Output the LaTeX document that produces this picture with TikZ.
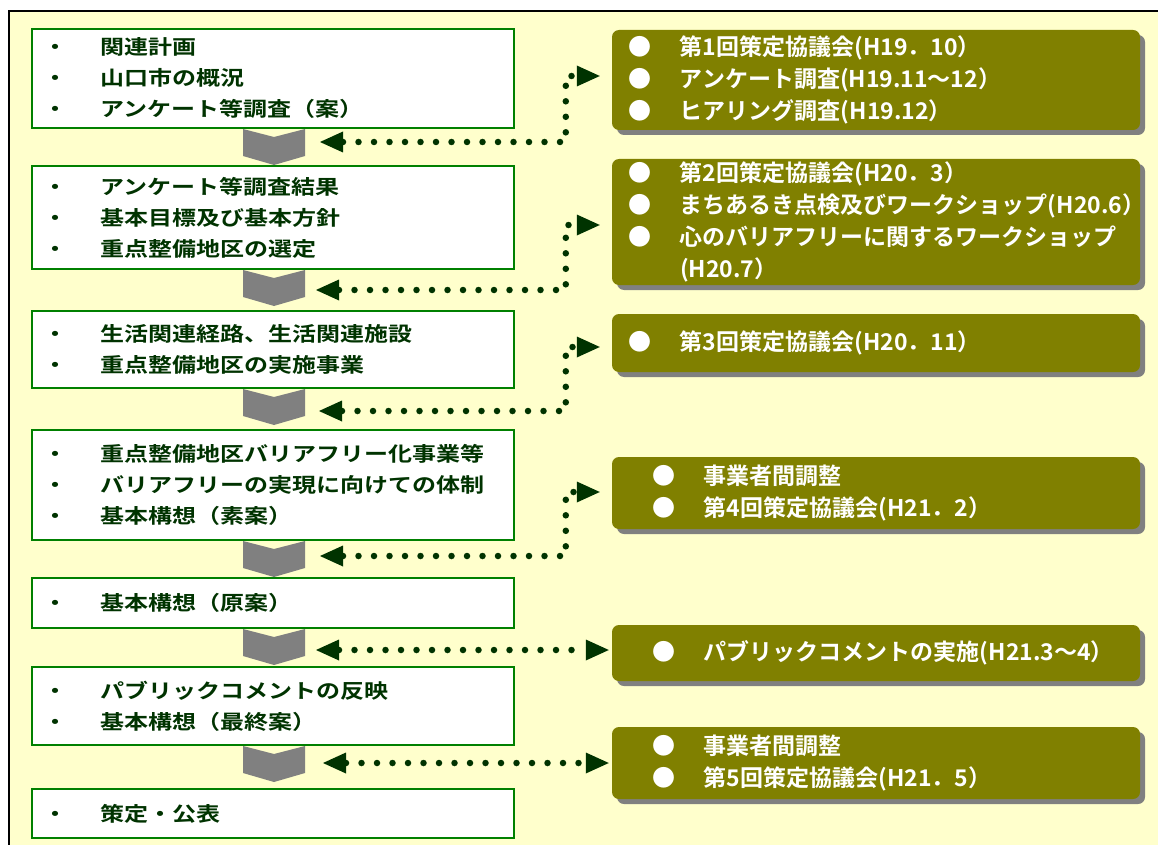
\documentclass[tikz,border=0pt]{standalone}
\usepackage{fontspec}
\usetikzlibrary{arrows.meta,shadows,calc}
\newfontfamily\lfont{Noto Sans CJK JP Bold}[FakeStretch=1.2]
\newfontfamily\rfont{Noto Sans CJK JP Bold}
\definecolor{bgyellow}{RGB}{255,255,204}
\definecolor{boxgreen}{RGB}{0,128,0}
\definecolor{dkgreen}{RGB}{0,51,0}
\definecolor{olivebox}{RGB}{128,128,0}
\definecolor{shadowgray}{RGB}{128,128,128}
\definecolor{chevgray}{RGB}{128,128,128}
\newcommand\lb{\makebox[57pt][l]{・}}
\newcommand\rb{\makebox[52pt][l]{●}}
\newcommand\rind{\makebox[52pt][l]{}}
\tikzset{
  lbox/.style={draw=boxgreen, line width=2pt, fill=white, text=dkgreen,
    inner xsep=11pt, inner ysep=0pt, text width=460pt, align=left,
    font=\lfont\fontsize{20}{31}\selectfont},
  rbox/.style={fill=olivebox, rounded corners=7pt, text=white,
    drop shadow={shadow xshift=5pt, shadow yshift=-5pt, fill=shadowgray, opacity=1},
    inner ysep=0pt, align=left, minimum width=528pt,
    font=\rfont\fontsize{23}{32}\selectfont},
  rboxa/.style={rbox, inner xsep=16pt, text width=496pt},
  rboxb/.style={rbox, inner xsep=40pt, text width=448pt},
  chev/.style={fill=chevgray},
  dotcon/.style={draw=dkgreen, line width=6.5pt, line cap=round,
    dash pattern=on 0pt off 15.5pt,
    {Triangle[length=23pt,width=21pt,line width=0pt]}-{Triangle[length=23pt,width=21pt,line width=0pt]}}
}
\begin{document}
\begin{tikzpicture}[x=1pt,y=-1pt]
\useasboundingbox (0,0) rectangle (1158,845);
\fill[white] (0,0) rectangle (1158,845);
\fill[bgyellow] (9,11) rectangle (1158,845);
\draw[black, line width=2pt] (9,846) -- (9,11) -- (1159,11);

% left boxes
\node[lbox, minimum height=99pt] (b1) at (273,78.5) {\lb 関連計画\\ \lb 山口市の概況\\ \lb アンケート等調査（案）};
\node[lbox, minimum height=103pt] (b2) at (273,217.5) {\lb アンケート等調査結果\\ \lb 基本目標及び基本方針\\ \lb 重点整備地区の選定};
\node[lbox, minimum height=77pt] (b3) at (273,349.5) {\lb 生活関連経路、生活関連施設\\ \lb 重点整備地区の実施事業};
\node[lbox, minimum height=110pt] (b4) at (273,485) {\lb 重点整備地区バリアフリー化事業等\\ \lb バリアフリーの実現に向けての体制\\ \lb 基本構想（素案）};
\node[lbox, minimum height=50pt] (b5) at (273,603) {\lb 基本構想（原案）};
\node[lbox, minimum height=78pt] (b6) at (273,706) {\lb パブリックコメントの反映\\ \lb 基本構想（最終案）};
\node[lbox, minimum height=49pt] (b7) at (273,813.5) {\lb 策定・公表};

% chevrons
\foreach \t in {129,270,389,541,629,746}{
  \fill[chev] (243,\t) -- (274,\t+8) -- (305,\t) -- (305,\t+27) -- (274,\t+36) -- (243,\t+27) -- cycle;
}

% right boxes
\node[rboxa, minimum height=100pt] (r1) at (876,80) {\rb 第1回策定協議会(H19．10）\\ \rb アンケート調査(H19.11～12）\\ \rb ヒアリング調査(H19.12）};
\node[rboxa, minimum height=126pt] (r2) at (876,222) {\rb 第2回策定協議会(H20．3）\\ \rb まちあるき点検及びワークショップ(H20.6）\\ \rb 心のバリアフリーに関するワークショップ\\ \rind (H20.7）};
\node[rboxa, minimum height=58pt] (r3) at (876,343) {\rb 第3回策定協議会(H20．11）};
\node[rboxb, minimum height=72pt] (r4) at (876,493) {\rb 事業者間調整\\ \rb 第4回策定協議会(H21．2）};
\node[rboxb, minimum height=56pt] (r5) at (876,653) {\rb パブリックコメントの実施(H21.3～4）};
\node[rboxb, minimum height=72pt] (r6) at (876,763) {\rb 事業者間調整\\ \rb 第5回策定協議会(H21．5）};

% connector end points
\coordinate (c1) at (320,142);
\coordinate (c2) at (316,290);
\coordinate (c3) at (319,411);
\coordinate (c4) at (320,556);
\coordinate (c5) at (316,650);
\coordinate (c6) at (323,763);
\coordinate (e1) at ($(r1.west |- 0,76)+(-12,0)$);
\coordinate (e2) at ($(r2.west |- 0,225)+(-12,0)$);
\coordinate (e3) at ($(r3.west |- 0,347)+(-12,0)$);
\coordinate (e4) at ($(r4.west |- 0,492)+(-12,0)$);
\coordinate (e5) at ($(r5.west |- 0,650)+(-3,0)$);
\coordinate (e6) at ($(r6.west |- 0,763)+(-3,0)$);

\draw[dotcon] (c1) -| ($(e1)+(-34,0)$) -- (e1);
\draw[dotcon] (c2) -| ($(e2)+(-34,0)$) -- (e2);
\draw[dotcon] (c3) -| ($(e3)+(-34,0)$) -- (e3);
\draw[dotcon] (c4) -| ($(e4)+(-34,0)$) -- (e4);
\draw[dotcon] (c5) -- (e5);
\draw[dotcon] (c6) -- (e6);
\end{tikzpicture}
\end{document}
